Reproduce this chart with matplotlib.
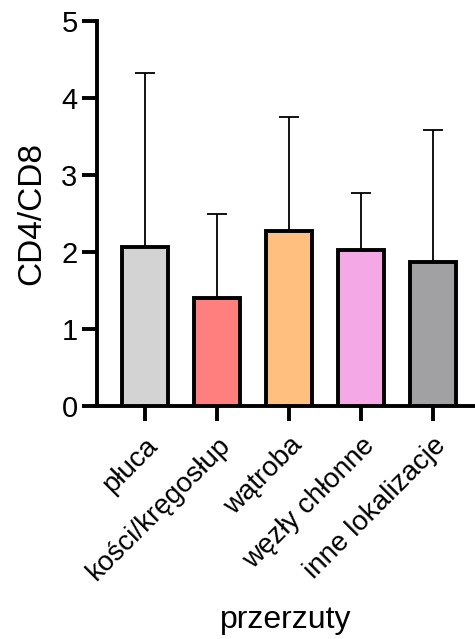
import matplotlib.pyplot as plt
import numpy as np

plt.rcParams['font.family'] = ['Liberation Sans', 'DejaVu Sans']

categories = ["płuca", "kości/kręgosłup", "wątroba", "węzły chłonne", "inne lokalizacje"]
means = [2.07, 1.40, 2.27, 2.03, 1.87]
upper = [4.32, 2.50, 3.75, 2.77, 3.58]
colors = ["#D3D3D3", "#FF7F7F", "#FFBF7F", "#F4A8E6", "#A1A1A4"]

err = [u - m for u, m in zip(upper, means)]
x = np.arange(len(categories))

fig = plt.figure(figsize=(4.75, 6.39), dpi=100)
ax = fig.add_axes([97/475, 1 - 406/639, 1 - 97/475, (406 - 21)/639])

ax.bar(x, means, width=0.64, color=colors, edgecolor="black", linewidth=2.8, zorder=3)
ax.errorbar(x, means, yerr=[np.zeros(len(x)), err], fmt="none", ecolor="black",
            elinewidth=1.3, capsize=7, capthick=1.3, zorder=2)

ax.set_xlim(-0.667, 4.58)
ax.set_ylim(0, 5)
ax.set_yticks([0, 1, 2, 3, 4, 5])
ax.set_xticks(x)
ax.set_xticklabels(categories, rotation=45, ha="right", rotation_mode="anchor", fontsize=20)
ax.tick_params(axis="y", labelsize=21, length=11, width=2.8, pad=3)
ax.tick_params(axis="x", length=11, width=2.8, pad=8)

for s in ["top", "right"]:
    ax.spines[s].set_visible(False)
for s in ["left", "bottom"]:
    ax.spines[s].set_linewidth(2.8)

ax.set_ylabel("CD4/CD8", fontsize=24, labelpad=10)
ax.set_xlabel("przerzuty", fontsize=23, labelpad=14)

fig.savefig("out.png", dpi=100)
